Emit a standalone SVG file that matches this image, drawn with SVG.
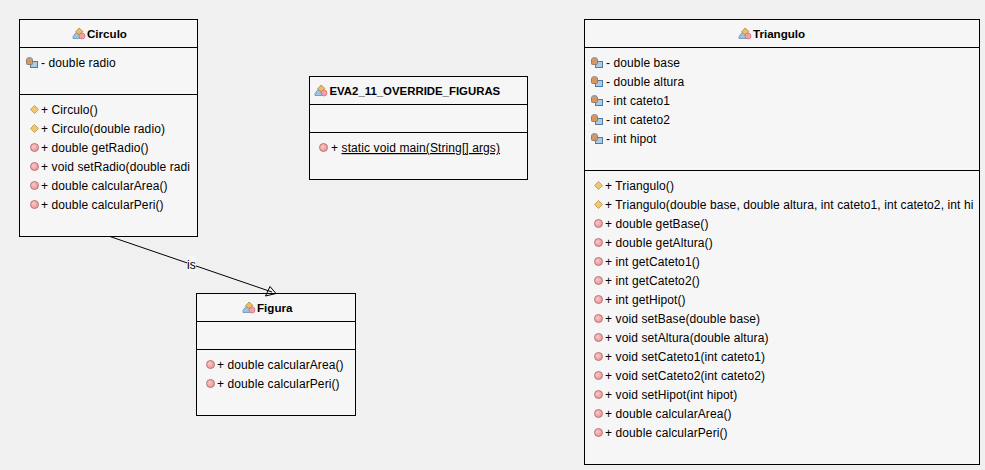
<svg xmlns="http://www.w3.org/2000/svg" xmlns:xlink="http://www.w3.org/1999/xlink" width="985" height="470" viewBox="0 0 985 470">
<style>
.box{fill:#f6f6f6;stroke:#000;stroke-width:1}
.sep{stroke:#000;stroke-width:1;fill:none}
text{font-family:"Liberation Sans",Arial,sans-serif;font-size:12px;letter-spacing:.1px;fill:#000}
.t{font-weight:bold;font-size:11.6px;letter-spacing:0}
.conn{stroke:#000;stroke-width:1;fill:none}
</style>
<defs>
<radialGradient id="mg" cx=".4" cy=".4" r=".7"><stop offset="0" stop-color="#fbc8c8"/><stop offset="1" stop-color="#e88a8a"/></radialGradient>
<g id="cls">
<path d="M0 9.500L3 5.500H8V11.500H0Z" fill="#9cc3e0" stroke="#5f87a8" stroke-width=".7"/>
<path d="M2.500 5L6 1L10 4.500L6.500 8Z" fill="#eebb66" stroke="#a87f35" stroke-width=".7"/>
<circle cx="9" cy="9" r="3" fill="#f4a0a8" stroke="#c86a72" stroke-width=".7"/>
</g>
<g id="fld">
<rect x="4.500" y="4.500" width="7" height="6" fill="#a8cdea" stroke="#4f7ba0" stroke-width="1"/>
<rect x="0.500" y="1.500" width="6" height="6" rx="1" fill="#d9975f" stroke="#8f7f70" stroke-width="1"/>
<rect x="1.500" y="0" width="4" height="2" fill="#a0a0a0"/>
</g>
<g id="ctor"><path d="M4.500 0.500L8.500 4.500L4.500 8.500L0.500 4.500Z" fill="#f2c76f" stroke="#b8924a" stroke-width=".8"/></g>
<g id="mth"><circle cx="4.500" cy="4.500" r="4" fill="url(#mg)" stroke="#b87a7a" stroke-width="1"/></g>
</defs>
<rect width="985" height="470" fill="#f0f0f0"/>
<g id="Circulo">
<rect class="box" x="19.500" y="19.500" width="178" height="217"/>
<path class="sep" d="M19.500 47.500H197.500M19.500 94.500H197.500"/>
<use href="#cls" x="73" y="27"/>
<text class="t" x="87" y="38">Circulo</text>
<use href="#fld" x="26" y="57"/>
<text x="41" y="67">- double radio</text>
<use href="#ctor" x="30" y="105"/><text x="41" y="114">+ Circulo()</text>
<use href="#ctor" x="30" y="124"/><text x="41" y="133">+ Circulo(double radio)</text>
<use href="#mth" x="30" y="143"/><text x="41" y="152">+ double getRadio()</text>
<use href="#mth" x="30" y="162"/><text x="41" y="171">+ void setRadio(double radi</text>
<use href="#mth" x="30" y="181"/><text x="41" y="190">+ double calcularArea()</text>
<use href="#mth" x="30" y="200"/><text x="41" y="209">+ double calcularPeri()</text>
</g>
<g id="EVA2_11_OVERRIDE_FIGURAS">
<rect class="box" x="309.500" y="76.500" width="218" height="103"/>
<path class="sep" d="M309.500 104.500H527.500M309.500 132.500H527.500"/>
<use href="#cls" x="315" y="84"/>
<text class="t" x="329.500" y="95" style="font-size:11.400px">EVA2_11_OVERRIDE_FIGURAS</text>
<use href="#mth" x="319" y="143"/>
<text x="331" y="152">+ <tspan text-decoration="underline">static void main(String[] args)</tspan></text>
</g>
<g id="Figura">
<rect class="box" x="196.500" y="293.500" width="159" height="122"/>
<path class="sep" d="M196.500 321.500H355.500M196.500 349.500H355.500"/>
<use href="#cls" x="243" y="301"/>
<text class="t" x="257" y="312">Figura</text>
<use href="#mth" x="206" y="360"/><text x="217" y="369">+ double calcularArea()</text>
<use href="#mth" x="206" y="379"/><text x="217" y="388">+ double calcularPeri()</text>
</g>
<g id="Triangulo">
<rect class="box" x="584.500" y="19.500" width="395" height="445"/>
<path class="sep" d="M584.500 47.500H979.500M584.500 170.500H979.500"/>
<use href="#cls" x="739" y="27"/>
<text class="t" x="753" y="38">Triangulo</text>
<use href="#fld" x="591" y="57"/><text x="606" y="67">- double base</text>
<use href="#fld" x="591" y="76"/><text x="606" y="86">- double altura</text>
<use href="#fld" x="591" y="95"/><text x="606" y="105">- int cateto1</text>
<use href="#fld" x="591" y="114"/><text x="606" y="124">- int cateto2</text>
<use href="#fld" x="591" y="133"/><text x="606" y="143">- int hipot</text>
<use href="#ctor" x="594" y="181"/><text x="605" y="190">+ Triangulo()</text>
<use href="#ctor" x="594" y="200"/><text x="605" y="209">+ Triangulo(double base, double altura, int cateto1, int cateto2, int hi</text>
<use href="#mth" x="594" y="219"/><text x="605" y="228">+ double getBase()</text>
<use href="#mth" x="594" y="238"/><text x="605" y="247">+ double getAltura()</text>
<use href="#mth" x="594" y="257"/><text x="605" y="266">+ int getCateto1()</text>
<use href="#mth" x="594" y="276"/><text x="605" y="285">+ int getCateto2()</text>
<use href="#mth" x="594" y="295"/><text x="605" y="304">+ int getHipot()</text>
<use href="#mth" x="594" y="314"/><text x="605" y="323">+ void setBase(double base)</text>
<use href="#mth" x="594" y="333"/><text x="605" y="342">+ void setAltura(double altura)</text>
<use href="#mth" x="594" y="352"/><text x="605" y="361">+ void setCateto1(int cateto1)</text>
<use href="#mth" x="594" y="371"/><text x="605" y="380">+ void setCateto2(int cateto2)</text>
<use href="#mth" x="594" y="390"/><text x="605" y="399">+ void setHipot(int hipot)</text>
<use href="#mth" x="594" y="409"/><text x="605" y="418">+ double calcularArea()</text>
<use href="#mth" x="594" y="428"/><text x="605" y="437">+ double calcularPeri()</text>
</g>
<g id="connectors">
<path class="conn" d="M110 236.500L272 292"/>
<rect x="187" y="256" width="9" height="16" fill="#f6f6f6"/>
<text x="187" y="269">is</text>
<path class="conn" d="M270 286.500L265.500 296L276 293.500Z"/>
</g>
</svg>
